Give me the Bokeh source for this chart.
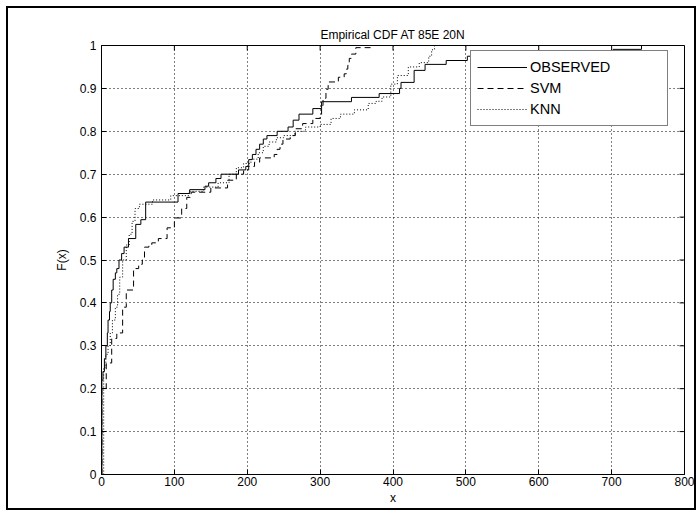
import math
from bokeh.plotting import figure
from bokeh.embed import file_html
from bokeh.resources import INLINE
from bokeh.layouts import column
from bokeh.models import FixedTicker, Range1d, Legend, LegendItem

# ---- data ----
obs_x = [0, 0.5, 2, 4, 6, 8, 9, 11, 12, 14, 16, 19, 21, 24, 27.6, 31, 37, 47, 54, 60.6, 105, 121, 142, 147, 157,
         164, 188, 198, 202, 207, 212, 217, 222, 227, 241, 256, 263, 271, 290, 302, 343, 381, 409, 411, 429, 444,
         473, 502, 540, 702, 741]
obs_f = [0.0, 0.22, 0.24, 0.27, 0.30, 0.33, 0.36, 0.38, 0.40, 0.43, 0.455, 0.47, 0.48, 0.50, 0.515, 0.53, 0.55,
         0.583, 0.594, 0.635, 0.655, 0.664, 0.672, 0.68, 0.69, 0.70, 0.71, 0.718, 0.734, 0.746, 0.758, 0.77, 0.782,
         0.79, 0.80, 0.81, 0.826, 0.84, 0.853, 0.869, 0.879, 0.888, 0.90, 0.914, 0.942, 0.956, 0.965, 0.975, 0.983,
         0.991, 1.0]

svm_x = [0, 0.5, 6.5, 14, 21, 29, 34, 44, 51, 56, 59, 65, 69, 78, 90, 100, 110, 117, 123, 150, 173, 185, 195, 202,
         210, 217, 237, 241, 245, 249, 259, 266, 276, 290, 300, 302, 304, 308, 311, 325, 333, 336, 338, 340, 343,
         349, 369]
svm_f = [0.0, 0.20, 0.26, 0.317, 0.33, 0.39, 0.43, 0.48, 0.49, 0.50, 0.53, 0.535, 0.54, 0.55, 0.575, 0.598, 0.62,
         0.646, 0.658, 0.668, 0.686, 0.70, 0.71, 0.718, 0.728, 0.738, 0.746, 0.758, 0.77, 0.782, 0.79, 0.806, 0.818,
         0.83, 0.837, 0.86, 0.877, 0.898, 0.915, 0.926, 0.934, 0.945, 0.954, 0.97, 0.98, 0.995, 1.0]

knn_x = [3, 3, 6, 9, 12, 15, 19, 22, 25, 29, 34, 38, 42, 46, 52, 70, 95, 120, 140, 160, 175, 185, 195, 205, 215,
         222, 230, 240, 250, 265, 280, 300, 315, 328, 347, 366, 377, 385, 397, 406, 421, 436, 449, 453, 457]
knn_f = [0.0, 0.25, 0.28, 0.30, 0.33, 0.36, 0.39, 0.42, 0.46, 0.50, 0.535, 0.56, 0.59, 0.62, 0.63, 0.64, 0.65,
         0.66, 0.67, 0.68, 0.70, 0.715, 0.725, 0.735, 0.75, 0.765, 0.775, 0.785, 0.79, 0.80, 0.81, 0.816, 0.83, 0.84,
         0.85, 0.865, 0.87, 0.88, 0.91, 0.93, 0.95, 0.96, 0.975, 0.99, 1.0]

x_ticks = [0, 100, 200, 300, 400, 500, 600, 700, 800]
y_ticks = [0, 0.1, 0.2, 0.3, 0.4, 0.5, 0.6, 0.7, 0.8, 0.9, 1]
y_labels = ["0", "0.1", "0.2", "0.3", "0.4", "0.5", "0.6", "0.7", "0.8", "0.9", "1"]
series_labels = ["OBSERVED", "SVM", "KNN"]

FONT = "'Liberation Sans', Arial, sans-serif"
X0, X1, Y0, Y1 = 0, 800, 0, 1

p = figure(width=686, height=500, output_backend="svg", toolbar_location=None,
           x_range=Range1d(X0, X1), y_range=Range1d(Y0, Y1),
           min_border_left=93, min_border_right=10, min_border_top=37, min_border_bottom=34,
           title="Empirical CDF AT 85E 20N")
p.title.align = "center"
p.title.text_font = FONT
p.title.text_font_size = "12px"
p.title.text_font_style = "normal"
p.title.text_color = "black"
p.title.standoff = 8

p.background_fill_color = "white"
p.border_fill_color = "white"
p.outline_line_color = "black"
p.outline_line_width = 1

for ax in (p.xaxis[0], p.yaxis[0]):
    ax.major_tick_in = 5
    ax.major_tick_out = 0
    ax.minor_tick_line_color = None
    ax.axis_line_color = "black"
    ax.major_tick_line_color = "black"
    ax.major_label_text_font = FONT
    ax.major_label_text_font_size = "12px"
    ax.major_label_text_color = "black"
    ax.axis_label_text_font = FONT
    ax.axis_label_text_font_size = "12px"
    ax.axis_label_text_font_style = "normal"
    ax.axis_label_text_color = "black"

p.xaxis[0].ticker = FixedTicker(ticks=x_ticks)
p.yaxis[0].ticker = FixedTicker(ticks=y_ticks)
p.yaxis[0].major_label_overrides = {t: l for t, l in zip(y_ticks, y_labels)}
p.xaxis[0].axis_label = "x"
p.yaxis[0].axis_label = "F(x)"
p.xaxis[0].major_label_standoff = 2
p.xaxis[0].axis_label_standoff = 2
p.yaxis[0].major_label_standoff = 5
p.yaxis[0].axis_label_standoff = 8

p.xgrid[0].ticker = FixedTicker(ticks=x_ticks)
p.ygrid[0].ticker = FixedTicker(ticks=y_ticks)
for g in (p.xgrid[0], p.ygrid[0]):
    g.grid_line_color = "black"
    g.grid_line_dash = "1 3"
    g.grid_line_width = 1

# inward ticks on the top and right edges (box on)
p.ray(x=x_ticks, y=[Y1] * len(x_ticks), length=5, length_units="screen", angle=-math.pi / 2,
      line_color="black", line_width=1)
p.ray(x=[X1] * len(y_ticks), y=y_ticks, length=5, length_units="screen", angle=math.pi,
      line_color="black", line_width=1)

r_obs = p.step(obs_x, obs_f, mode="after", line_color="black", line_width=1)
r_svm = p.step(svm_x, svm_f, mode="after", line_color="black", line_width=1, line_dash="6 4")
r_knn = p.step(knn_x, knn_f, mode="after", line_color="black", line_width=1, line_dash="1 2")

legend = Legend(items=[LegendItem(label=series_labels[0], renderers=[r_obs]),
                       LegendItem(label=series_labels[1], renderers=[r_svm]),
                       LegendItem(label=series_labels[2], renderers=[r_knn])],
                location=(369, 348))
legend.label_text_font = FONT
legend.label_text_font_size = "14.5px"
legend.label_text_color = "black"
legend.border_line_color = "black"
legend.border_line_width = 1.3
legend.background_fill_alpha = 1
legend.glyph_width = 50
legend.glyph_height = 20
legend.label_height = 20
legend.label_width = 131
legend.spacing = 1
legend.padding = 6
legend.margin = 0
legend.label_standoff = 3
p.add_layout(legend)

layout = column(p, styles={"border": "2px solid black", "margin": "6px"})

open("out.html", "w").write(file_html(layout, INLINE))
